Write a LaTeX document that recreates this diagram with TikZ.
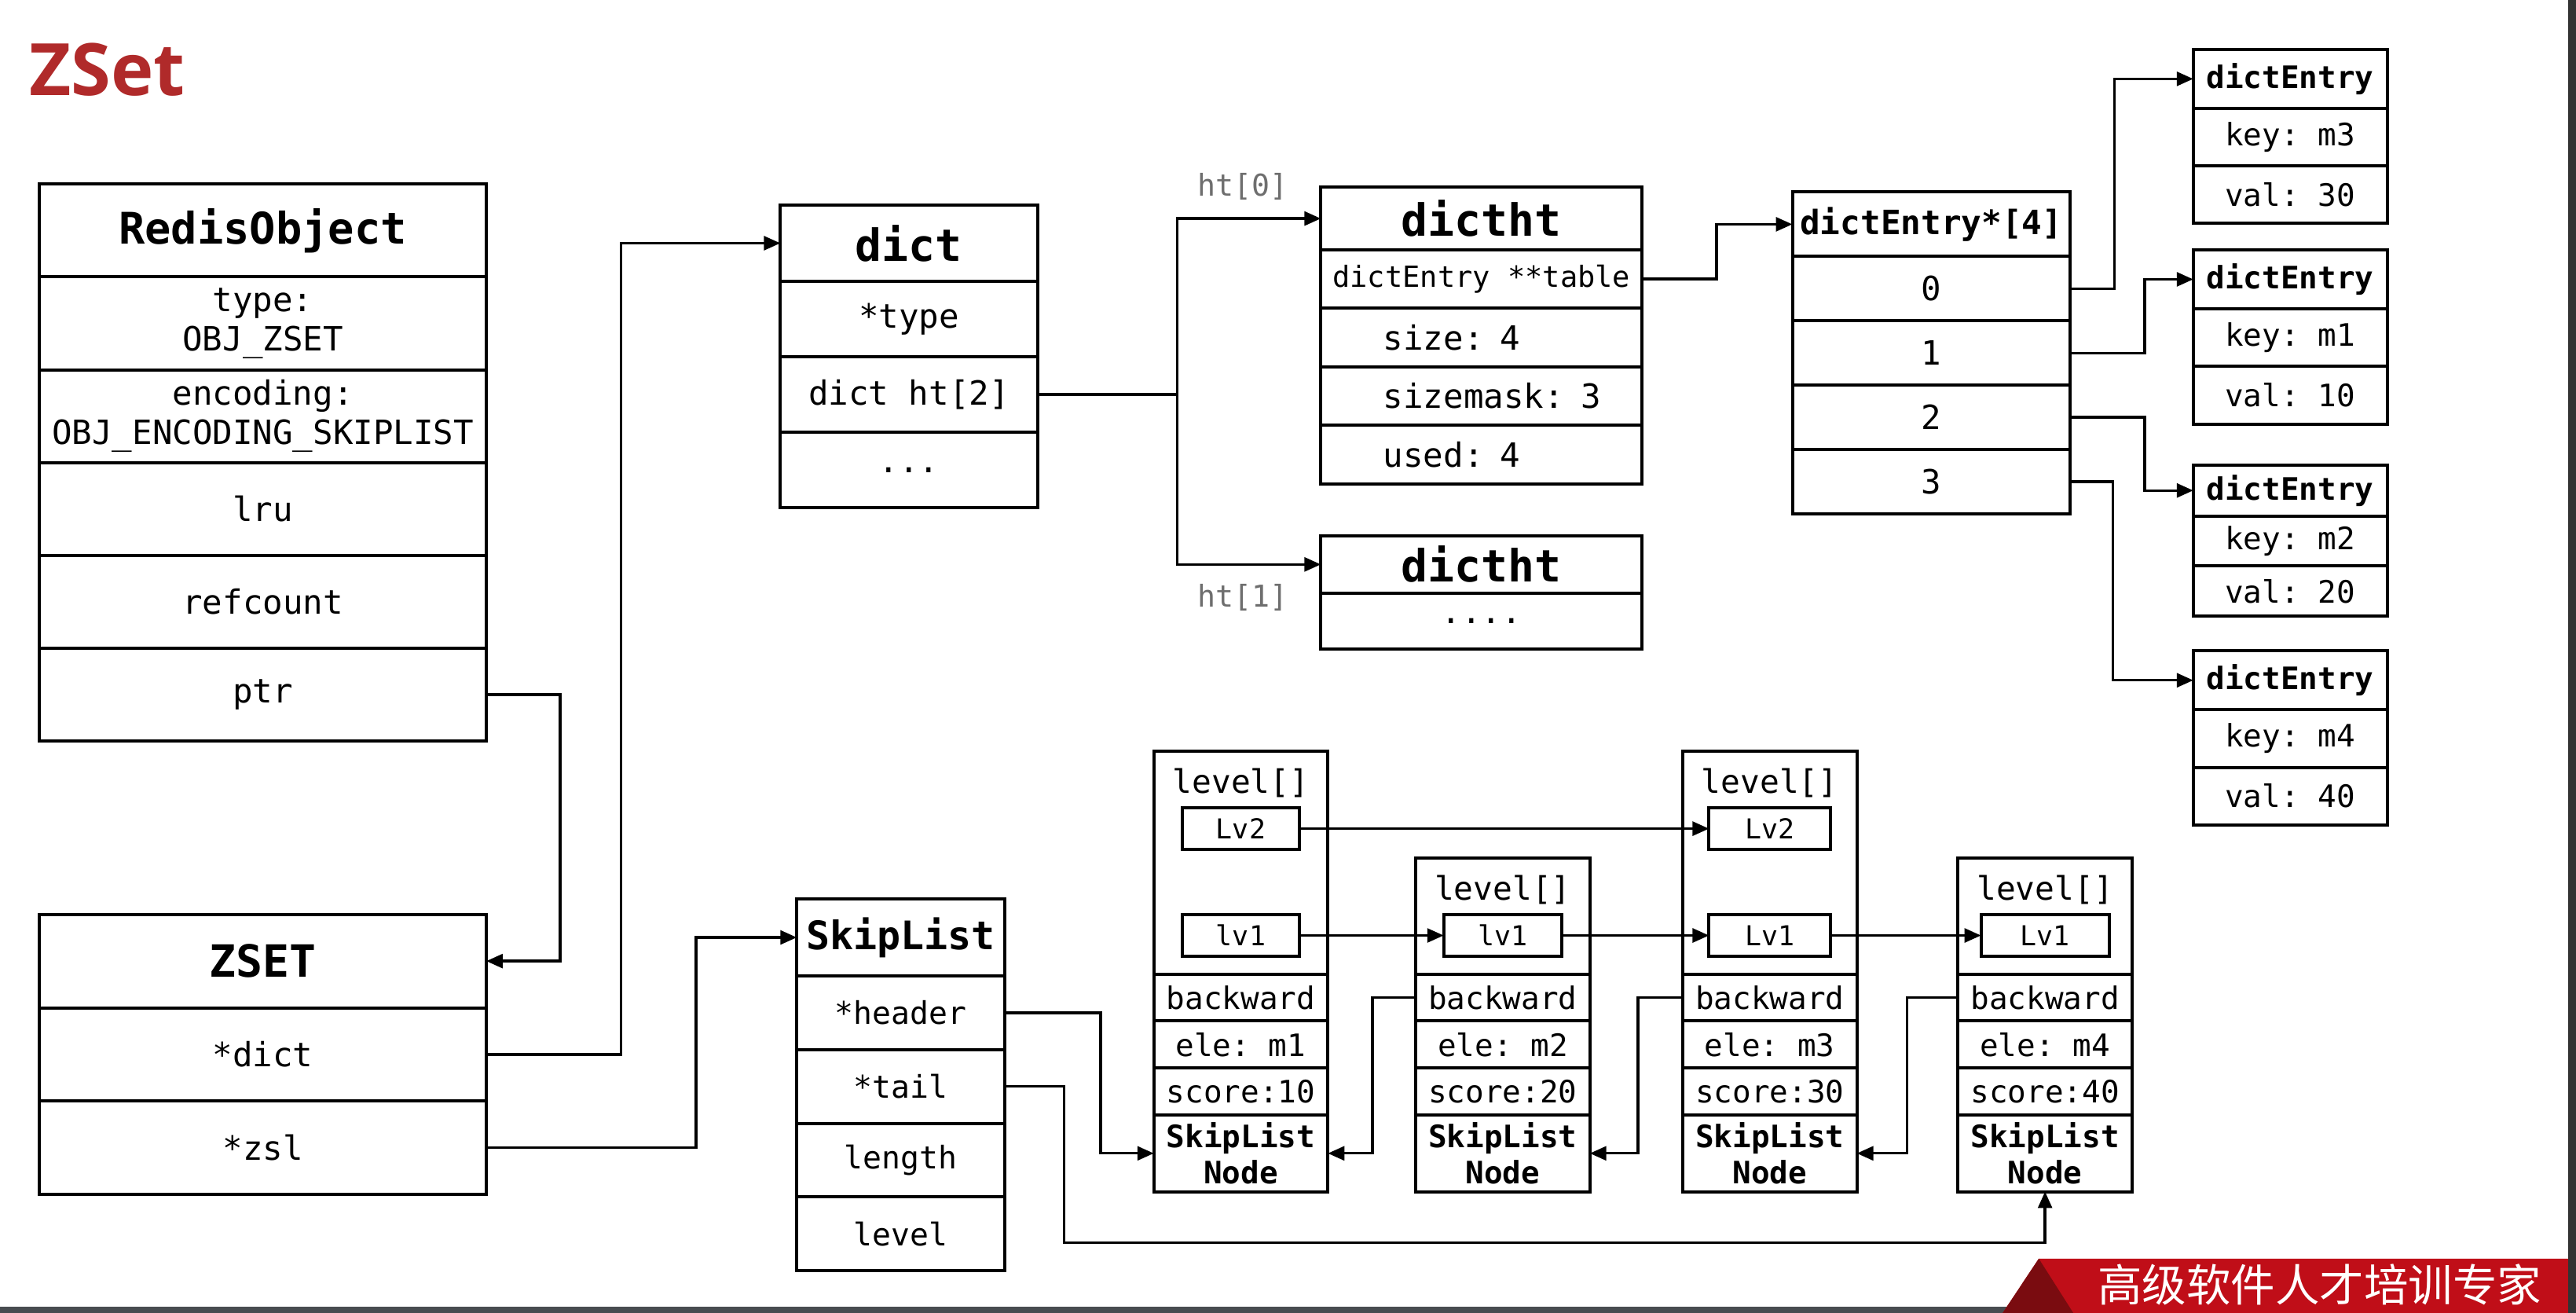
\documentclass[tikz,border=0pt]{standalone}
\usepackage{fontspec}
\setmonofont{DejaVu Sans Mono}
\newfontfamily\titlefont{Open Sans}
\newfontfamily\cjk{Noto Sans CJK SC}
\usetikzlibrary{arrows.meta}
\definecolor{zred}{RGB}{176,42,42}
\definecolor{bannerred}{RGB}{192,14,24}
\definecolor{folddark}{RGB}{122,12,16}
\definecolor{labelgray}{RGB}{110,110,110}
\definecolor{screengray}{RGB}{72,76,80}

\begin{document}
\begin{tikzpicture}[x=1pt,y=-1pt,>={Triangle[length=10pt,width=8.5pt]},ultra thick,
	cell/.style={draw,line width=1.9pt,inner sep=0pt,outer sep=0pt,align=center},
	head/.style={cell,font=\ttfamily\bfseries\fontsize{27}{30}\selectfont},
	field/.style={cell,font=\ttfamily\fontsize{20.3}{24}\selectfont},
	entryhead/.style={cell,font=\ttfamily\bfseries\fontsize{18.8}{22}\selectfont},
	entryfield/.style={cell,font=\ttfamily\fontsize{18.8}{22}\selectfont},
	lvbox/.style={cell,font=\ttfamily\fontsize{16.7}{20}\selectfont,minimum height=25.4pt},
	lvltext/.style={font=\ttfamily\fontsize{19.7}{22}\selectfont,anchor=north,inner sep=0pt,yshift=-10pt},
	htlabel/.style={font=\ttfamily\fontsize{18.3}{20}\selectfont,text=labelgray},
	robox/.style={minimum width=272pt,minimum height=56.5pt},
	zsbox/.style={minimum width=272pt,minimum height=56.8pt},
	dictbox/.style={minimum width=156.5pt,minimum height=46pt},
	htbox/.style={minimum width=195.5pt,minimum height=35.6pt},
	indented/.style={field,htbox,text width=195.5pt,align=left,execute at begin node=\hspace*{38pt}},
	arrbox/.style={minimum width=169pt,minimum height=39.2pt},
	entbox/.style={minimum width=118pt,minimum height=35pt},
	slbox/.style={minimum width=126.6pt,minimum height=44.8pt},
	ndbox/.style={minimum width=106pt,minimum height=28.6pt}]
	\useasboundingbox[fill=white] (0,0) rectangle (1568,799.06);
	
	%title
	\node[font=\titlefont\bfseries\fontsize{44}{50}\selectfont,text=zred,anchor=base west,inner sep=0pt] (title) at (17,58) {ZSet};
	
	%RedisObject
	\node[head,robox,font=\ttfamily\bfseries\fontsize{26.5}{30}\selectfont] (ro) at (160,140.25) {RedisObject};
	\node[field,robox] (rotype) at (160,196.75) {type:\\OBJ\_ZSET};
	\node[field,robox] (roenc)  at (160,253.25) {encoding:\\OBJ\_ENCODING\_SKIPLIST};
	\node[field,robox] (rolru)  at (160,309.75) {lru};
	\node[field,robox] (roref)  at (160,366.25) {refcount};
	\node[field,robox] (roptr)  at (160,422.75) {ptr};
	
	%ZSET
	\node[head,zsbox] (zset)  at (160,584.9) {ZSET};
	\node[field,zsbox] (zdict) at (160,641.7) {*dict};
	\node[field,zsbox] (zzsl)  at (160,698.5) {*zsl};
	
	%dict
	\node[head,dictbox]  (dict)  at (553.25,148) {dict};
	\node[field,dictbox] (dtype) at (553.25,194) {*type};
	\node[field,dictbox] (dht)   at (553.25,240) {dict ht[2]};
	\node[field,dictbox] (ddots) at (553.25,286) {...};
	
	%dictht ht[0] and ht[1]
	\node[head,htbox,minimum height=38pt] (ht0) at (901.75,133) {dictht};
	\node[field,htbox,font=\ttfamily\fontsize{17.7}{20}\selectfont] (httable) at (901.75,169.8) {dictEntry **table};
	\node[indented] (htsize) at (901.75,205.4) {size: 4};
	\node[indented] (htmask) at (901.75,241)   {sizemask: 3};
	\node[indented] (htused) at (901.75,276.6) {used: 4};
	%
	\node[head,htbox,minimum height=35pt] (ht1)  at (901.75,343.5) {dictht};
	\node[field,htbox,minimum height=34pt] (ht1dots) at (901.75,378) {....};
	\node[htlabel] (ht0lbl) at (756.5,113.5) {ht[0]};
	\node[htlabel] (ht1lbl) at (756.5,363.5) {ht[1]};
	
	%dictEntry*[4]
	\node[cell,arrbox,font=\ttfamily\bfseries\fontsize{20.4}{24}\selectfont] (dearr) at (1175.5,136.5) {dictEntry*[4]};
	\node[field,arrbox] (de0) at (1175.5,175.6) {0};
	\node[field,arrbox] (de1) at (1175.5,214.8) {1};
	\node[field,arrbox] (de2) at (1175.5,254)   {2};
	\node[field,arrbox] (de3) at (1175.5,293.2) {3};
	
	%dictEntry boxes
	\node[entryhead,entbox,minimum height=36pt] (e1) at (1394,48) {dictEntry};
	\node[entryfield,entbox] (e1key) at (1394,83.5)  {key: m3};
	\node[entryfield,entbox] (e1val) at (1394,118.5) {val: 30};
	%
	\node[entryhead,entbox,minimum height=36pt] (e2) at (1394,170) {dictEntry};
	\node[entryfield,entbox] (e2key) at (1394,205.5) {key: m1};
	\node[entryfield,entbox] (e2val) at (1394,240.5) {val: 10};
	%
	\node[entryhead,entbox,minimum height=31pt] (e3) at (1394,298.5) {dictEntry};
	\node[entryfield,entbox,minimum height=30.5pt] (e3key) at (1394,329.25) {key: m2};
	\node[entryfield,entbox,minimum height=30.5pt] (e3val) at (1394,359.75) {val: 20};
	%
	\node[entryhead,entbox,minimum height=36pt] (e4) at (1394,414) {dictEntry};
	\node[entryfield,entbox] (e4key) at (1394,449.5) {key: m4};
	\node[entryfield,entbox] (e4val) at (1394,484.5) {val: 40};
	
	%SkipList
	\node[cell,slbox,minimum height=47pt,font=\ttfamily\bfseries\fontsize{23.9}{26}\selectfont] (sl) at (548.3,570.5) {SkipList};
	\node[entryfield,slbox,font=\ttfamily\fontsize{19}{22}\selectfont] (slhead) at (548.3,616.4) {*header};
	\node[entryfield,slbox,font=\ttfamily\fontsize{19}{22}\selectfont] (sltail) at (548.3,661.2) {*tail};
	\node[entryfield,slbox,font=\ttfamily\fontsize{19}{22}\selectfont] (sllen)  at (548.3,706)   {length};
	\node[entryfield,slbox,font=\ttfamily\fontsize{19}{22}\selectfont] (sllvl)  at (548.3,750.8) {level};
	
	%SkipListNode 1
	\node[cell,minimum width=106pt,minimum height=135.8pt,label={[lvltext]north:{level[]}}] (n1lvl) at (755.3,524.9) {};
	\node[lvbox,minimum width=71pt] (n1lv2) at (755.3,504.3) {Lv2};
	\node[lvbox,minimum width=71pt] (n1lv1) at (755.3,569.3) {lv1};
	\node[entryfield,ndbox] (n1back)  at (755.3,607.1) {backward};
	\node[entryfield,ndbox] (n1ele)   at (755.3,635.7) {ele: m1};
	\node[entryfield,ndbox] (n1score) at (755.3,664.3) {score:10};
	\node[entryhead,ndbox,minimum height=46.6pt] (n1node) at (755.3,701.9) {SkipList\\Node};
	
	%SkipListNode 2
	\node[cell,minimum width=106pt,minimum height=70.8pt,label={[lvltext]north:{level[]}}] (n2lvl) at (914.75,557.4) {};
	\node[lvbox,minimum width=72pt] (n2lv1) at (914.75,569.3) {lv1};
	\node[entryfield,ndbox] (n2back)  at (914.75,607.1) {backward};
	\node[entryfield,ndbox] (n2ele)   at (914.75,635.7) {ele: m2};
	\node[entryfield,ndbox] (n2score) at (914.75,664.3) {score:20};
	\node[entryhead,ndbox,minimum height=46.6pt] (n2node) at (914.75,701.9) {SkipList\\Node};
	
	%SkipListNode 3
	\node[cell,minimum width=106pt,minimum height=135.8pt,label={[lvltext]north:{level[]}}] (n3lvl) at (1077.25,524.9) {};
	\node[lvbox,minimum width=74pt] (n3lv2) at (1077.25,504.3) {Lv2};
	\node[lvbox,minimum width=74pt] (n3lv1) at (1077.25,569.3) {Lv1};
	\node[entryfield,ndbox] (n3back)  at (1077.25,607.1) {backward};
	\node[entryfield,ndbox] (n3ele)   at (1077.25,635.7) {ele: m3};
	\node[entryfield,ndbox] (n3score) at (1077.25,664.3) {score:30};
	\node[entryhead,ndbox,minimum height=46.6pt] (n3node) at (1077.25,701.9) {SkipList\\Node};
	
	%SkipListNode 4
	\node[cell,minimum width=106pt,minimum height=70.8pt,label={[lvltext]north:{level[]}}] (n4lvl) at (1244.8,557.4) {};
	\node[lvbox,minimum width=78pt] (n4lv1) at (1244.8,569.3) {Lv1};
	\node[entryfield,ndbox] (n4back)  at (1244.8,607.1) {backward};
	\node[entryfield,ndbox] (n4ele)   at (1244.8,635.7) {ele: m4};
	\node[entryfield,ndbox] (n4score) at (1244.8,664.3) {score:40};
	\node[entryhead,ndbox,minimum height=46.6pt] (n4node) at (1244.8,701.9) {SkipList\\Node};
	
	%pointers out of RedisObject and ZSET
	\draw[->] (roptr.east) -- ++(45,0) |- (zset.east);
	\draw[->] (zdict.east) -- ++(82,0) |- (dict.west);
	\draw[->] (zzsl.east) -- ++(127.6,0) |- (sl.west);
	
	%hash table arrows
	\draw[->] (dht.east) -- ++(85,0) |- (ht0.west);		%ht[0]
	\draw[->] (dht.east) -- ++(85,0) |- (ht1.west);		%ht[1]
	\draw[->] (httable.east) -- ++(45.3,0) |- (dearr.west);
	\draw[->] (de0.east) -- ++(27,0) |- (e1.west);
	\draw[->] (de1.east) -- ++(45.5,0) |- (e2.west);
	\draw[->] (de2.east) -- ++(45.5,0) |- (e3.west);
	\draw[->] (de3.east) -- ++(26,0) |- (e4.west);
	
	%skiplist arrows
	\draw[->] (slhead.east) -- ++(58.4,0) |- (n1node.west);		%header
	\draw[->] (sltail.east) -- ++(36.2,0) -- ++(0,95) -| (n4node.south);	%tail
	\draw[->] (n1lv2) -- (n3lv2);
	\draw[->] (n1lv1) -- (n2lv1);
	\draw[->] (n2lv1) -- (n3lv1);
	\draw[->] (n3lv1) -- (n4lv1);
	%backward
	\draw[->] (n2back.west) -- ++(-26.3,0) |- (n1node.east);
	\draw[->] (n3back.west) -- ++(-27.2,0) |- (n2node.east);
	\draw[->] (n4back.west) -- ++(-31,0) |- (n3node.east);
	
	%screen edges and banner
	\fill[screengray] (0,795) rectangle (1250,799.06);
	\fill[bannerred] (1219,799.06) -- (1241,766) -- (1568,766) -- (1568,799.06) -- cycle;
	\fill[folddark] (1219,799.06) -- (1241,766) -- (1262,799.06) -- cycle;
	\fill[black!80] (1563,0) rectangle (1568,799.06);
	\node[font=\cjk\fontsize{27}{30}\selectfont,text=white] (slogan) at (1412,782) {高级软件人才培训专家};
\end{tikzpicture}
\end{document}
